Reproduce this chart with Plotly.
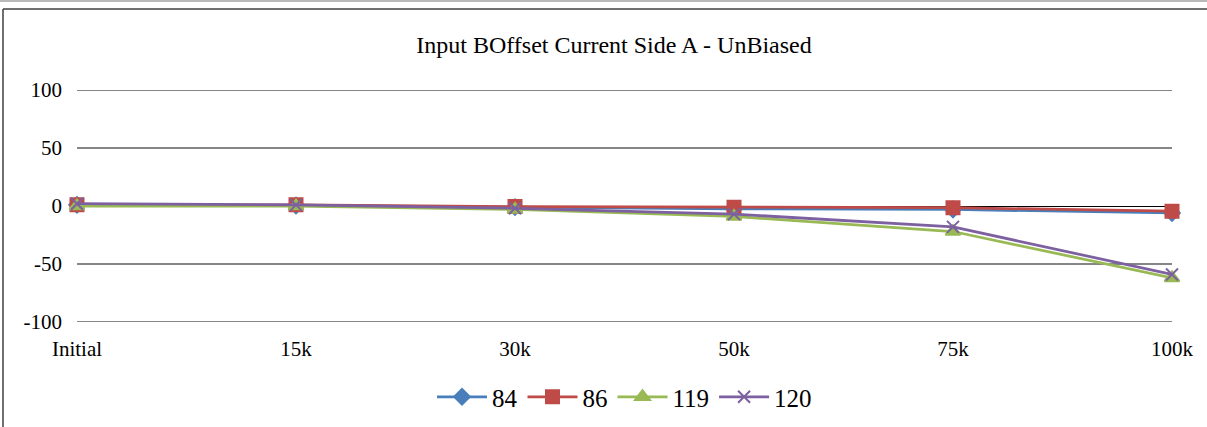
import plotly.graph_objects as go

# category axis and series values
checkpoints = ["Initial", "15k", "30k", "50k", "75k", "100k"]
s84 = [1, 0.5, -1, -2.5, -3, -6]
s86 = [1, 1, -0.5, -1, -1.5, -4.5]
s119 = [0, 0, -3, -9, -22, -62]
s120 = [2, 1, -2, -7, -18, -59]
y_ticks = [-100, -50, 0, 50, 100]
y_labels = ["-100", "-50", "0", "50", "100"]

W, H = 1207, 427
L, R, T, B = 77, 35, 90, 105
PW, PH = W - L - R, H - T - B

SERIES = [
    ("84", s84, "#4A7EBB", "diamond", 12),
    ("86", s86, "#BE4B48", "square", 13),
    ("119", s119, "#98B954", "triangle-up", 13),
    ("120", s120, "#7D60A0", "x-thin", 12),
]

FONT = "Liberation Serif, Times New Roman, serif"


def px_x(p):
    return (p - L) / PW


def px_y(p):
    return (H - B - p) / PH


fig = go.Figure()
for name, vals, col, sym, size in SERIES:
    fig.add_trace(go.Scatter(
        x=checkpoints, y=vals, name=name, mode="lines+markers",
        line=dict(color=col, width=2.75),
        marker=dict(symbol=sym, size=size, color=col,
                    line=dict(color=col, width=2)),
        cliponaxis=False,
    ))

# horizontal gridlines (drawn as shapes so the edge ones at +/-100 show up)
grid = [
    dict(type="line", xref="paper", yref="y", x0=0, x1=1, y0=v, y1=v,
         layer="below", line=dict(color="#868686", width=2))
    for v in y_ticks if v != 0
]

frame = [
    dict(type="line", xref="paper", yref="paper",
         x0=px_x(3), x1=px_x(3), y0=px_y(9), y1=px_y(H + 5),
         line=dict(color="#404040", width=1.5)),
    dict(type="line", xref="paper", yref="paper",
         x0=px_x(3), x1=px_x(W + 5), y0=px_y(9), y1=px_y(9),
         line=dict(color="#404040", width=1.5)),
    dict(type="line", xref="paper", yref="paper",
         x0=px_x(0), x1=px_x(W + 5), y0=px_y(1), y1=px_y(1),
         line=dict(color="#a0a0a0", width=1.5)),
]

fig.update_layout(
    width=W, height=H,
    margin=dict(l=L, r=R, t=T, b=B),
    paper_bgcolor="white", plot_bgcolor="white",
    font=dict(family=FONT, size=21, color="black"),
    title=dict(text="Input BOffset Current Side A - UnBiased",
               x=614 / W, xanchor="center", xref="container",
               y=1 - 45 / H, yanchor="middle", yref="container",
               font=dict(size=24)),
    showlegend=True,
    legend=dict(orientation="h", x=0.5, xanchor="center",
                y=1 - 397 / H, yanchor="middle", yref="container",
                font=dict(size=25), itemwidth=50, tracegroupgap=0),
    xaxis=dict(type="category", range=[0, 5], showgrid=False,
               showline=False, ticks="", ticklabelstandoff=12,
               tickfont=dict(size=21)),
    yaxis=dict(range=[-100, 100], tickvals=y_ticks, ticktext=y_labels,
               showgrid=False,
               zeroline=True, zerolinecolor="black", zerolinewidth=1,
               showline=False, ticks="", ticklabelstandoff=14,
               tickfont=dict(size=21)),
    shapes=grid + frame,
)

fig.write_html("out.html", config={"displayModeBar": False},
               post_script="document.body.style.margin='0';")
